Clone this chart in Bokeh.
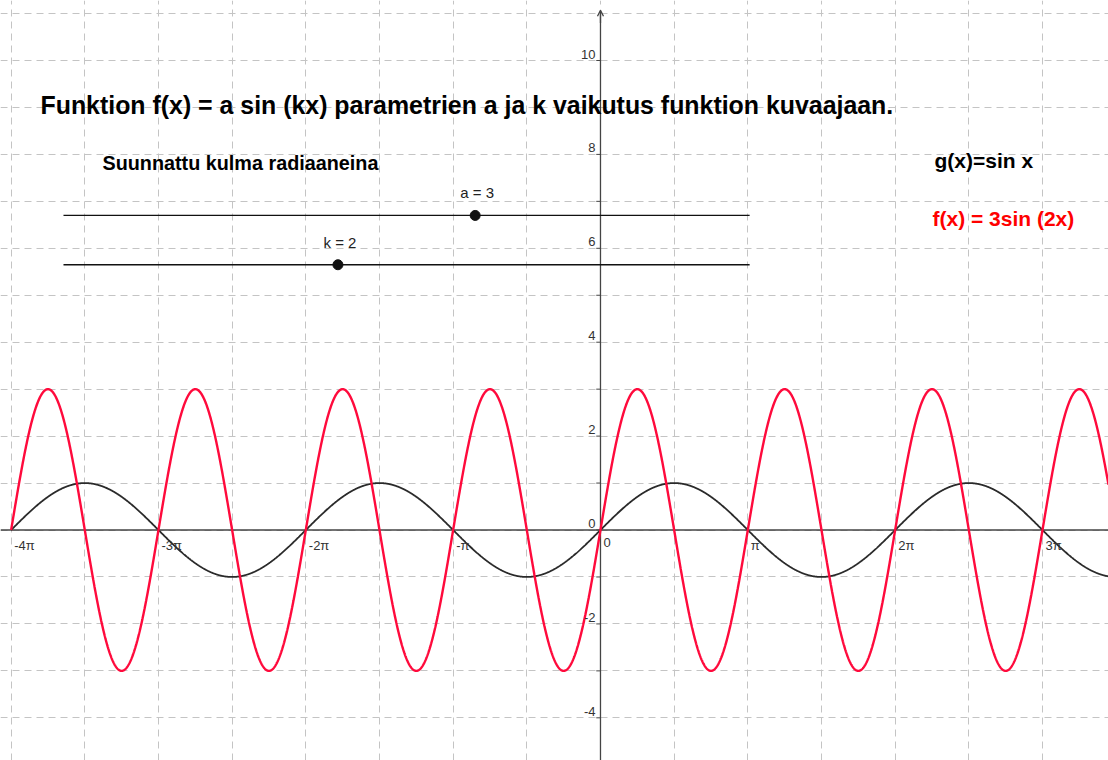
import numpy as np
from bokeh.plotting import figure
from bokeh.models import Range1d, Label, FixedTicker, Arrow, OpenHead
from bokeh.core.properties import value
from bokeh.embed import file_html
from bokeh.resources import INLINE

# Slider parameters for f(x) = a sin(kx)
a = 3
k = 2
slider_min = 0
slider_max = 5

# Both functions are drawn from x = -4π onwards
domain_start = -4 * np.pi

# Axis tick labels
x_tick_multiples = [-4, -3, -2, -1, 0, 1, 2, 3]
x_tick_labels = ["-4π", "-3π", "-2π", "-π", "0", "π", "2π", "3π"]
y_tick_values = [-4, -2, 0, 2, 4, 6, 8, 10]
y_tick_labels = ["-4", "-2", "0", "2", "4", "6", "8", "10"]

# Visible window of the graphics view
X0, X1 = -12.793, 10.832
Y0, Y1 = -4.909, 11.278
W, H = 1108, 760
FONT_NAME = "Liberation Sans"
FONT = value(FONT_NAME)

p = figure(width=W, height=H, x_range=Range1d(X0, X1), y_range=Range1d(Y0, Y1),
           output_backend="svg", toolbar_location=None, min_border=0,
           x_axis_location=None, y_axis_location=None)
p.outline_line_color = None
p.background_fill_color = "white"
p.border_fill_color = "white"

# dashed grid: π/2 horizontally, 1 vertically
p.xgrid.ticker = FixedTicker(ticks=[i * np.pi / 2 for i in range(-9, 8)])
p.ygrid.ticker = FixedTicker(ticks=list(range(-5, 12)))
for g in (p.xgrid[0], p.ygrid[0]):
    g.grid_line_color = "#c4c4c4"
    g.grid_line_dash = "7 5"
    g.grid_line_width = 1

# axes
AX = "#444444"
p.line([X0, X1], [0, 0], line_color=AX, line_width=1.3)
p.line([0, 0], [Y0, 11.05], line_color=AX, line_width=1.3)
p.add_layout(Arrow(end=OpenHead(size=6, line_color=AX, line_width=1.3),
                   x_start=0, y_start=10.8, x_end=0, y_end=11.07,
                   line_color=AX, line_width=1.3))

# small ticks on the y axis
yt = np.arange(-4, 11)
p.segment(x0=np.zeros(len(yt)), y0=yt, x1=np.full(len(yt), -0.09), y1=yt,
          line_color=AX, line_width=1)

# curves g(x) = sin x and f(x) = a sin(kx)
xs = np.linspace(domain_start, X1, 4000)
p.line(xs, np.sin(xs), line_color="#2a2a2a", line_width=1.8)
p.line(xs, a * np.sin(k * xs), line_color="#ff0a3c", line_width=2.4)

# tick labels
p.text(x=[m * np.pi for m in x_tick_multiples], y=[0] * len(x_tick_multiples),
       text=x_tick_labels, x_offset=3, y_offset=8, text_align="left",
       text_baseline="top", text_font=FONT, text_font_size="13px",
       text_color="#333333")
p.text(x=[0] * len(y_tick_values), y=y_tick_values, text=y_tick_labels,
       x_offset=-5, y_offset=-2, text_align="right", text_baseline="bottom",
       text_font=FONT, text_font_size="13px", text_color="#333333")

# sliders
sx0, sx1 = -11.45, 3.18
for val, sy, name in ((a, 6.70, "a"), (k, 5.65, "k")):
    p.line([sx0, sx1], [sy, sy], line_color="#111111", line_width=1.3)
    dx = sx0 + (val - slider_min) / (slider_max - slider_min) * (sx1 - sx0)
    p.scatter([dx], [sy], size=10, color="#111111")
    p.text(x=[dx], y=[sy], text=[f"{name} = {val}"], x_offset=2, y_offset=-14,
           text_align="center", text_baseline="bottom", text_font=FONT,
           text_font_size="15px", text_color="#222222")

# texts
p.add_layout(Label(x=40, y=H - 104,
                   x_units="screen", y_units="screen",
                   text="Funktion f(x) = a sin (kx) parametrien a ja k vaikutus funktion kuvaajaan.",
                   text_font=FONT_NAME, text_font_size="24.9px", text_font_style="bold",
                   text_color="black", text_baseline="middle"))
p.add_layout(Label(x=102, y=H - 162, x_units="screen", y_units="screen",
                   text="Suunnattu kulma radiaaneina", text_font=FONT_NAME,
                   text_font_size="19.8px", text_font_style="bold",
                   text_color="black", text_baseline="middle"))
p.add_layout(Label(x=934, y=H - 160, x_units="screen", y_units="screen",
                   text="g(x)=sin x", text_font=FONT_NAME, text_font_size="21px",
                   text_font_style="bold", text_color="black",
                   text_baseline="middle"))
p.add_layout(Label(x=932, y=H - 218, x_units="screen", y_units="screen",
                   text=f"f(x) = {a}sin ({k}x)", text_font=FONT_NAME,
                   text_font_size="21px", text_font_style="bold",
                   text_color="#ff0000", text_baseline="middle"))

open("out.html", "w").write(file_html(p, INLINE))
